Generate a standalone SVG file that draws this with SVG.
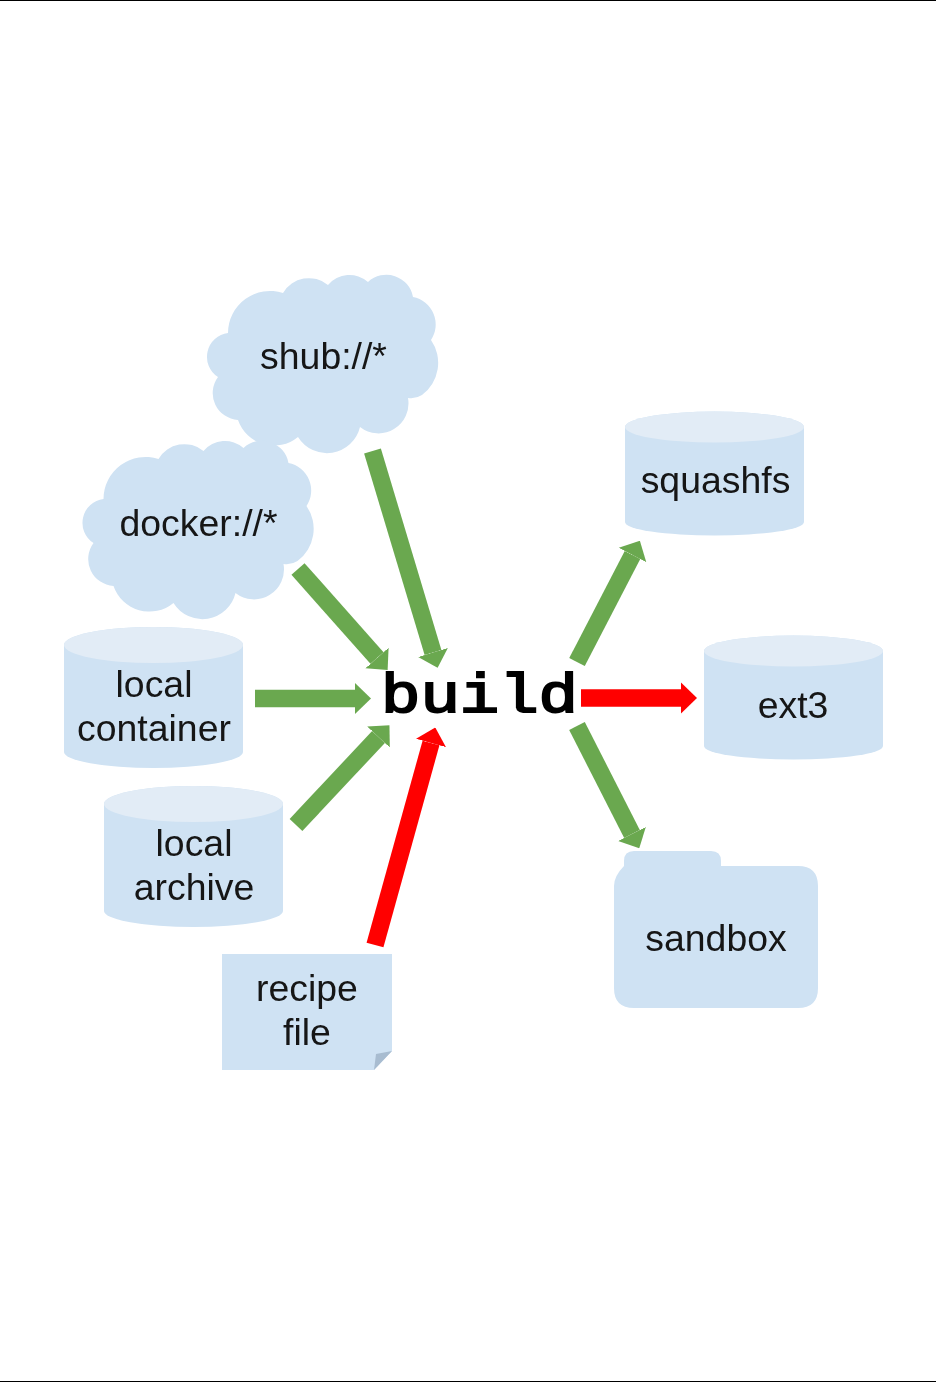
<svg xmlns="http://www.w3.org/2000/svg" xmlns:xlink="http://www.w3.org/1999/xlink" width="936" height="1382" viewBox="0 0 936 1382">
<style>
.b{fill:#cfe2f3}
.l{fill:#e2ecf6}
.t{font-family:"Liberation Sans",Arial,sans-serif;font-size:37.400px;fill:#151515;text-anchor:middle}
.g{stroke:#6aa84f;stroke-width:17.500;fill:none;marker-end:url(#hg)}
.r{stroke:#ff0000;stroke-width:17.500;fill:none;marker-end:url(#hr)}
</style>
<defs>
<filter id="soft" x="0" y="0" width="100%" height="100%" filterUnits="objectBoundingBox"><feGaussianBlur stdDeviation="0.6"/></filter>
<marker id="hg" markerUnits="userSpaceOnUse" markerWidth="16" markerHeight="32" viewBox="0 0 16 32" refX="0" refY="16" orient="auto"><path d="M0 .5L16 16L0 31.5Z" fill="#6aa84f"/></marker>
<marker id="hr" markerUnits="userSpaceOnUse" markerWidth="16" markerHeight="32" viewBox="0 0 16 32" refX="0" refY="16" orient="auto"><path d="M0 .5L16 16L0 31.5Z" fill="#ff0000"/></marker>
<path id="cloud" class="b" d="M228 333A42 42 0 0 1 283 293A30 30 0 0 1 328 285A28 28 0 0 1 368 282A27 27 0 0 1 413 297A28 28 0 0 1 431 340A40 40 0 0 1 422 395A20 20 0 0 1 408 398A30 30 0 0 1 360 427A34 34 0 0 1 298 437A38 38 0 0 1 238 420A27 27 0 0 1 218 377A24 24 0 0 1 228 333Z"/>
</defs>
<rect width="936" height="1382" fill="#ffffff"/>
<g filter="url(#soft)">
<g id="shub"><use xlink:href="#cloud" href="#cloud"/><text class="t" x="323.500" y="369">shub://*</text></g>
<g id="docker"><use xlink:href="#cloud" href="#cloud" transform="translate(-124.500 166)"/><text class="t" x="198.500" y="536">docker://*</text></g>
<g id="local-container"><path class="b" d="M64 645A89.500 18 0 0 1 243 645V752A89.500 16 0 0 1 64 752Z"/><ellipse class="l" cx="153.500" cy="645" rx="89.500" ry="18"/><text class="t" x="154" y="697">local</text><text class="t" x="154" y="741">container</text></g>
<g id="local-archive"><path class="b" d="M104 804A89.500 18 0 0 1 283 804V911A89.500 16 0 0 1 104 911Z"/><ellipse class="l" cx="193.500" cy="804" rx="89.500" ry="18"/><text class="t" x="194" y="856">local</text><text class="t" x="194" y="900">archive</text></g>
<g id="recipe-file"><path class="b" d="M222 954H392V1051L374 1070H222Z"/><path d="M392 1051L376 1054L374 1070Z" fill="#a8bcd0"/><text class="t" x="307" y="1001">recipe</text><text class="t" x="307" y="1045">file</text></g>
<g id="squashfs"><path class="b" d="M625 427A89.500 15.500 0 0 1 804 427V522A89.500 13.500 0 0 1 625 522Z"/><ellipse class="l" cx="714.500" cy="427" rx="89.500" ry="15.500"/><text class="t" x="715.500" y="493">squashfs</text></g>
<g id="ext3"><path class="b" d="M704 651A89.500 15.500 0 0 1 883 651V746A89.500 13.500 0 0 1 704 746Z"/><ellipse class="l" cx="793.500" cy="651" rx="89.500" ry="15.500"/><text class="t" x="793" y="718">ext3</text></g>
<g id="sandbox"><path class="b" d="M624 861Q624 851 634 851H711Q721 851 721 861V866H798Q818 866 818 886V988Q818 1008 798 1008H634Q614 1008 614 988V886Q614 876 624 866Z"/><text class="t" x="716" y="951">sandbox</text></g>
<g id="build"><text x="381" y="711.500" textLength="197" lengthAdjust="spacingAndGlyphs" style="font-family:'Liberation Mono','Courier New',monospace;font-size:55px;fill:#000;stroke:#000;stroke-width:2">build</text></g>
<g id="connectors">
<path class="g" d="M372.500 451L433 652.500"/>
<path class="g" d="M298 569L377 658"/>
<path class="g" d="M255 698.500H355"/>
<path class="g" d="M296 825L378.500 737"/>
<path class="r" d="M375 945L431 743"/>
<path class="g" d="M577 662L632.500 555"/>
<path class="r" d="M581 698H681"/>
<path class="g" d="M577 726L632 834"/>
</g>
</g>
<rect width="936" height="1" fill="#000"/>
<rect y="1381" width="936" height="1" fill="#000"/>
</svg>
